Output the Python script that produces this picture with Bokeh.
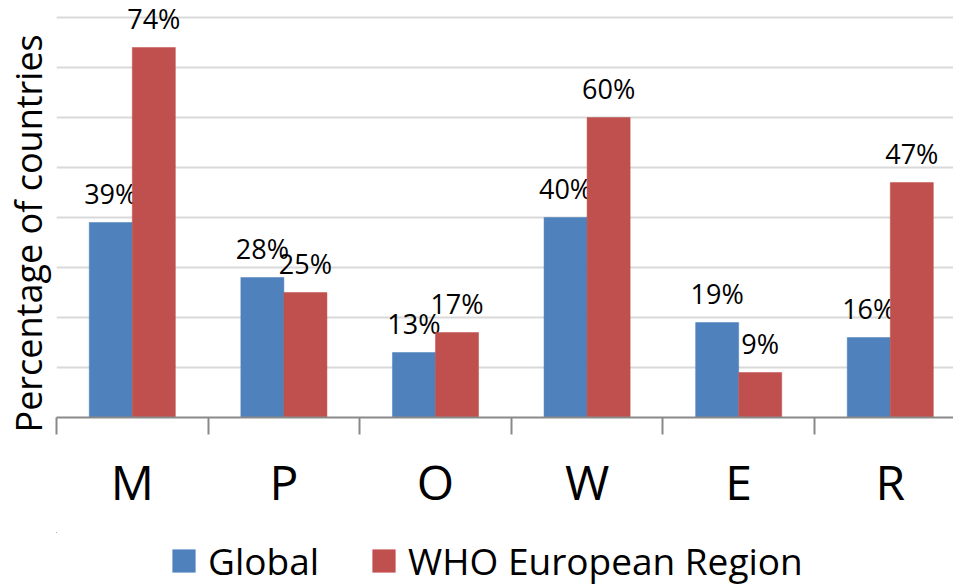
from bokeh.plotting import figure
from bokeh.layouts import column
from bokeh.models import (ColumnDataSource, Range1d, FixedTicker, Legend, LegendItem,
                          LinearAxis, Title)
from bokeh.core.properties import value
from bokeh.embed import file_html
from bokeh.resources import INLINE

# Data
categories = ["M", "P", "O", "W", "E", "R"]
global_pct = [39, 28, 13, 40, 19, 16]
europe_pct = [74, 25, 17, 60, 9, 47]
series_names = ["Global", "WHO European Region"]
colors = ["#4F81BD", "#C0504D"]

FONT = "Open Sans"
BAR_W = 0.284

n = len(categories)
centers = [i + 0.5 for i in range(n)]
boundaries = [float(i) for i in range(n + 1)]

sources = []
for k, vals in enumerate([global_pct, europe_pct]):
    off = (k - 0.5) * BAR_W
    sources.append(ColumnDataSource(dict(
        x=[c + off for c in centers],
        top=vals,
        label=[f"{v}%" for v in vals],
    )))

# ---- main chart -------------------------------------------------------------
p = figure(width=953, height=532, output_backend="svg", toolbar_location=None,
           x_range=Range1d(0, 5.917), y_range=Range1d(0, 83.4),
           x_axis_location=None, y_axis_location=None,
           min_border_left=56, min_border_right=0, min_border_top=0,
           min_border_bottom=115)
p.outline_line_color = None
p.background_fill_color = "white"
p.border_fill_color = "white"

# grid lines every 10 %
p.ygrid.ticker = FixedTicker(ticks=list(range(10, 90, 10)))
p.ygrid.grid_line_color = "#d9d9d9"
p.ygrid.grid_line_width = 2
p.xgrid.grid_line_color = None

for k, src in enumerate(sources):
    p.vbar(x="x", top="top", bottom=0, width=BAR_W, source=src,
           fill_color=colors[k], line_color=colors[k], line_width=0.5)
    p.text(x="x", y="top", text="label", source=src,
           text_font=value(FONT), text_font_size="27px", text_color="black",
           text_align="center", text_baseline="alphabetic", y_offset=-29)

# vertical axis title
p.add_layout(Title(text="Percentage of countries", text_font=FONT,
                   text_font_size="36px", text_font_style="normal",
                   text_color="black", align="left", offset=-15,
                   vertical_align="top", standoff=3), "left")

# bottom axis: category names at centres, tick marks at group boundaries
xaxis = LinearAxis(ticker=FixedTicker(ticks=centers, minor_ticks=boundaries),
                   axis_line_color="#898989", axis_line_width=2,
                   major_tick_line_color=None, major_tick_out=17, major_tick_in=0,
                   minor_tick_line_color="#898989", minor_tick_line_width=2,
                   minor_tick_out=17, minor_tick_in=0,
                   major_label_text_font=FONT,
                   major_label_text_font_size="48px",
                   major_label_text_color="black",
                   major_label_standoff=14)
xaxis.major_label_overrides = {c: name for c, name in zip(centers, categories)}
p.add_layout(xaxis, "below")

# ---- legend strip (its own bars lie far outside the visible range) ---------
leg = figure(width=953, height=56, output_backend="svg", toolbar_location=None,
             x_range=Range1d(50, 51), y_range=Range1d(-200, -199),
             x_axis_location=None, y_axis_location=None,
             min_border_left=0, min_border_right=0, min_border_top=0,
             min_border_bottom=0)
leg.outline_line_color = None
leg.grid.grid_line_color = None
leg.border_fill_color = "white"

swatches = [leg.vbar(x="x", top="top", bottom=0, width=BAR_W, source=src,
                     fill_color=colors[k], line_color=None)
            for k, src in enumerate(sources)]
legend = Legend(items=[LegendItem(label=name, renderers=[r])
                       for name, r in zip(series_names, swatches)],
                orientation="horizontal", location=(113, 2),
                label_text_font=FONT, label_text_font_size="37px",
                label_text_color="black",
                glyph_width=29, glyph_height=29, label_standoff=10,
                spacing=50, padding=0, margin=0,
                border_line_color=None, background_fill_alpha=0)
leg.add_layout(legend, "center")

open("out.html", "w").write(file_html(column(p, leg, spacing=0), INLINE))
